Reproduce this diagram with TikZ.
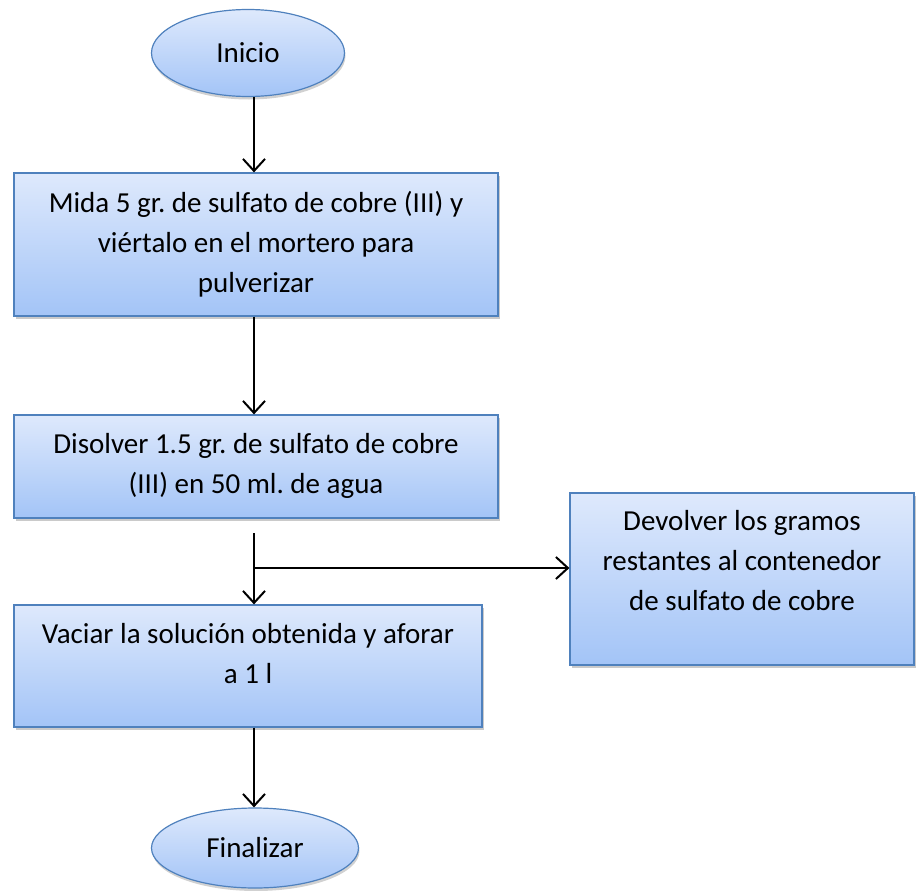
\documentclass[tikz,border=0pt]{standalone}
\usepackage{fontspec}
\setmainfont{Carlito}
\frenchspacing
\usetikzlibrary{arrows.meta,shapes.geometric,shadows}
\definecolor{boxtop}{RGB}{222,233,252}
\definecolor{boxbot}{RGB}{163,196,247}
\definecolor{boxline}{RGB}{79,129,189}
\tikzset{
  stepbox/.style={rectangle, draw=boxline, line width=1.2pt,
    top color=boxtop, bottom color=boxbot, inner sep=0pt,
    drop shadow={shadow xshift=2pt, shadow yshift=-3pt, opacity=.35, fill=black!60}},
  term/.style={ellipse, draw=boxline, line width=1.2pt,
    top color=boxtop, bottom color=boxbot, inner sep=0pt,
    font=\fontsize{29}{34}\selectfont,
    drop shadow={shadow xshift=1pt, shadow yshift=-3pt, opacity=.3, fill=black!60}},
  txt/.style={align=center, inner sep=0pt, font=\fontsize{29}{40}\selectfont},
  link/.style={line width=2pt},
  flow/.style={link, -{Straight Barb[length=12pt,width=22pt,line width=2pt]}}
}
\begin{document}
\begin{tikzpicture}[x=1pt,y=-1pt]
\useasboundingbox (0,0) rectangle (916,891);

% terminals
\node[term, minimum width=193pt, minimum height=87pt] (start) at (248,53) {Inicio};
\node[term, minimum width=207pt, minimum height=80pt] (stop) at (255,848) {Finalizar};

% process boxes
\node[stepbox, minimum width=484pt, minimum height=143pt] (b1) at (256,244.5) {};
\node[stepbox, minimum width=484pt, minimum height=103pt] (b2) at (256,466.5) {};
\node[stepbox, minimum width=468pt, minimum height=122pt] (b3) at (248,666) {};
\node[stepbox, minimum width=344pt, minimum height=172pt] (side) at (742,579) {};

% box texts
\node[txt, anchor=north] (t1) at ([yshift=-19pt]b1.north)
  {Mida 5 gr. de sulfato de cobre (III) y\\viértalo en el mortero para\\pulverizar};
\node[txt, anchor=north] (t2) at ([yshift=-19pt]b2.north)
  {Disolver 1.5 gr. de sulfato de cobre\\(III) en 50 ml. de agua};
\node[txt, anchor=north] (t3) at ([yshift=-19pt]b3.north)
  {Vaciar la solución obtenida y aforar\\a 1 l};
\node[txt, anchor=north] (t4) at ([yshift=-18pt]side.north)
  {Devolver los gramos\\restantes al contenedor\\de sulfato de cobre};

% connectors
\coordinate (split) at (254,533);
\coordinate (branch) at (254,568);
\draw[flow] ([xshift=6pt]start.south) -- ([xshift=-2pt]b1.north);
\draw[flow] ([xshift=-2pt]b1.south) -- ([xshift=-2pt]b2.north);
\draw[flow] (split) -- (split |- b3.north);
\draw[flow] (branch) -- (branch -| side.west);
\draw[flow] ([xshift=6pt]b3.south) -- ([xshift=-1pt]stop.north);
\end{tikzpicture}
\end{document}
